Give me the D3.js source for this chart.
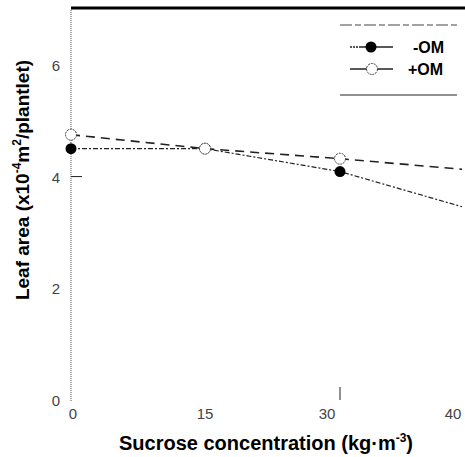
<!DOCTYPE html>
<html>
<head>
<meta charset="utf-8">
<script src="https://cdn.jsdelivr.net/npm/d3@7"></script>
<style>
  body { margin: 0; background: #fff; }
  svg { display: block; font-family: "Liberation Sans", Arial, sans-serif; }
</style>
</head>
<body>
<div id="chart"></div>
<script>
// sucrose concentration (kg m-3)
var sucrose = [0, 15, 30, 40];
// leaf area (x10^-4 m2 / plantlet)
var minusOM = [4.5, 4.5, 4.09, 3.46];
var plusOM = [4.75, 4.5, 4.32, 4.13];
var xTicks = [0, 15, 30, 40];
var yTicks = [0, 2, 4, 6];

var width = 465, height = 457;

var svg = d3.select("#chart").append("svg")
    .attr("width", width)
    .attr("height", height);

// the printed axis is not evenly spaced, so use a polylinear scale
var x = d3.scaleLinear()
    .domain([0, 15, 30, 40])
    .range([71, 205, 340, 462]);

var y = d3.scaleLinear()
    .domain([0, 7])
    .range([400, 9]);

// top frame line
svg.append("line")
    .attr("x1", 71).attr("x2", width)
    .attr("y1", 8).attr("y2", 8)
    .attr("stroke", "#000")
    .attr("stroke-width", 3);

// dotted left axis
svg.append("line")
    .attr("x1", 71).attr("x2", 71)
    .attr("y1", 10).attr("y2", 402)
    .attr("stroke", "#555")
    .attr("stroke-width", 1)
    .attr("stroke-dasharray", "1,1");

// y ticks
svg.selectAll(".ytick")
    .data(yTicks)
    .join("text")
    .attr("class", "ytick")
    .attr("x", 56)
    .attr("y", d => y(d) + 6)
    .attr("text-anchor", "middle")
    .style("font-size", "15px")
    .style("fill", "#444")
    .text(d => d);

svg.append("line")
    .attr("x1", 71).attr("x2", 82)
    .attr("y1", y(4)).attr("y2", y(4))
    .attr("stroke", "#222");

// x ticks (labels sit a little left of the marks on the print)
var xLabelPos = [73, 205, 327, 453];
svg.selectAll(".xtick")
    .data(xTicks)
    .join("text")
    .attr("class", "xtick")
    .attr("x", (d, i) => xLabelPos[i])
    .attr("y", 419)
    .attr("text-anchor", "middle")
    .style("font-size", "15px")
    .style("fill", "#444")
    .text(d => d);

svg.append("line")
    .attr("x1", x(30)).attr("x2", x(30))
    .attr("y1", 387).attr("y2", 400)
    .attr("stroke", "#222");

// axis titles
svg.append("text")
    .attr("text-anchor", "middle")
    .attr("x", 266).attr("y", 450)
    .style("font-size", "20px")
    .style("font-weight", "bold")
    .html("Sucrose concentration (kg·m<tspan dy='-8' font-size='12px'>-3</tspan><tspan dy='8'>)</tspan>");

svg.append("text")
    .attr("text-anchor", "middle")
    .attr("transform", "translate(29,180)rotate(-90)")
    .style("font-size", "19px")
    .style("font-weight", "bold")
    .html("Leaf area (x10<tspan dy='-8' font-size='12px'>-4</tspan><tspan dy='8'>m</tspan><tspan dy='-8' font-size='12px'>2</tspan><tspan dy='8'>/plantlet)</tspan>");

// lines
var line = d3.line()
    .x((d, i) => x(sucrose[i]))
    .y(d => y(d));

svg.append("path")
    .datum(minusOM)
    .attr("d", line)
    .attr("fill", "none")
    .attr("stroke", "#222")
    .attr("stroke-width", 1.2)
    .attr("stroke-dasharray", "5,2,2,2");

svg.append("path")
    .datum(plusOM)
    .attr("d", line)
    .attr("fill", "none")
    .attr("stroke", "#222")
    .attr("stroke-width", 1.6)
    .attr("stroke-dasharray", "9,6");

// markers (last value has no marker)
svg.selectAll(".pt-minus")
    .data(minusOM.slice(0, 3))
    .join("circle")
    .attr("class", "pt-minus")
    .attr("cx", (d, i) => x(sucrose[i]))
    .attr("cy", d => y(d))
    .attr("r", 5.5)
    .attr("fill", "#000");

svg.selectAll(".pt-plus")
    .data(plusOM.slice(0, 3))
    .join("circle")
    .attr("class", "pt-plus")
    .attr("cx", (d, i) => x(sucrose[i]))
    .attr("cy", d => y(d))
    .attr("r", 5.5)
    .attr("fill", "#fff")
    .attr("stroke", "#333")
    .attr("stroke-width", 1)
    .attr("stroke-dasharray", "2,1");

// legend
var lg = svg.append("g");
lg.append("line")
    .attr("x1", 340).attr("x2", 457).attr("y1", 25).attr("y2", 25)
    .attr("stroke", "#444").attr("stroke-dasharray", "12,3,6,3");
lg.append("line")
    .attr("x1", 340).attr("x2", 457).attr("y1", 95).attr("y2", 95)
    .attr("stroke", "#222").attr("stroke-width", 1.2);

lg.append("line")
    .attr("x1", 350).attr("x2", 393).attr("y1", 47).attr("y2", 47)
    .attr("stroke", "#222").attr("stroke-width", 1.4)
    .attr("stroke-dasharray", "2,1,2,1,2,1,40");
lg.append("circle")
    .attr("cx", 371).attr("cy", 47).attr("r", 5.5).attr("fill", "#000");
lg.append("text")
    .attr("x", 413).attr("y", 53)
    .style("font-size", "16px").style("font-weight", "bold")
    .text("-OM");

lg.append("line")
    .attr("x1", 350).attr("x2", 393).attr("y1", 69).attr("y2", 69)
    .attr("stroke", "#222").attr("stroke-width", 1.4);
lg.append("circle")
    .attr("cx", 372).attr("cy", 69).attr("r", 5.5)
    .attr("fill", "#fff").attr("stroke", "#333").attr("stroke-dasharray", "2,1");
lg.append("text")
    .attr("x", 408).attr("y", 75)
    .style("font-size", "16px").style("font-weight", "bold")
    .text("+OM");
</script>
</body>
</html>
